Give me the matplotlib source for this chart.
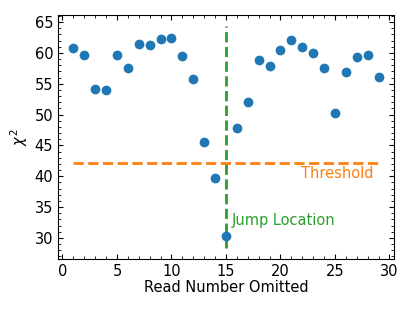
import numpy as np
import matplotlib
matplotlib.use("Agg")
from matplotlib import pyplot as plt
from matplotlib.ticker import AutoMinorLocator

read_omitted = np.arange(1, 30)
chi2 = [60.85, 59.61, 54.08, 53.92, 59.61, 57.52, 61.45, 61.29, 62.31, 62.35,
        59.52, 55.69, 45.58, 39.73, 30.37, 47.78, 52.10, 58.92, 57.79, 60.53,
        62.03, 60.97, 60.0, 57.58, 50.32, 56.82, 59.40, 59.61, 56.13]
threshold = 42.2
jump_location = 15

FS = 10.5

fig = plt.figure(figsize=(4.15, 3.11), dpi=100)
ax = fig.add_axes([0.14, 0.167, 0.809, 0.785])

ax.scatter(read_omitted, chi2, color='C0', zorder=3)
ax.hlines(threshold, read_omitted[0], read_omitted[-1], colors='C1', linestyles='--', lw=2)
ax.vlines(jump_location, min(chi2) - 2, max(chi2) + 2, colors='C2', linestyles='--', lw=2)

ax.text(28.5, threshold - 1.5, 'Threshold', color='C1', ha='right', va='center_baseline', fontsize=FS)
ax.text(jump_location + 0.5, 33.1, 'Jump Location', color='C2', ha='left', va='center_baseline', fontsize=FS)

ax.set_xlabel('Read Number Omitted', fontsize=FS, labelpad=1)
ax.set_ylabel(r'$\chi^2$', fontsize=FS, labelpad=3)
ax.set_xticks([0, 5, 10, 15, 20, 25, 30])
ax.set_yticks([30, 35, 40, 45, 50, 55, 60, 65])
ax.xaxis.set_minor_locator(AutoMinorLocator(5))
ax.yaxis.set_minor_locator(AutoMinorLocator(5))
ax.tick_params(which='both', direction='in', top=True, right=True, labelsize=FS)

fig.savefig('out.png', dpi=100)
